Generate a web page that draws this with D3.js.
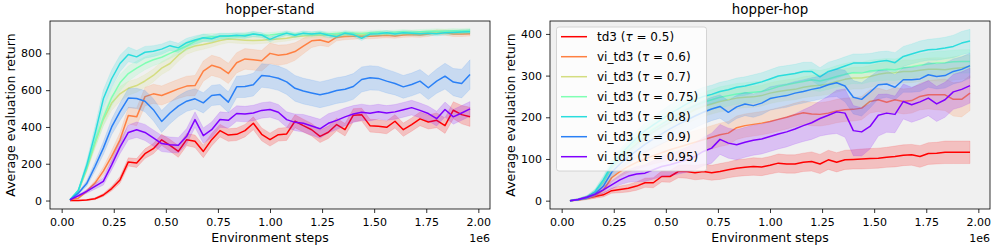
<!DOCTYPE html>
<html><head><meta charset="utf-8">
<script src="https://cdn.jsdelivr.net/npm/d3@7"></script>
<style>
body{margin:0;background:#fff}
svg{display:block}
text{font-family:"DejaVu Sans",sans-serif;fill:#000}
</style></head>
<body><svg id="c" width="996" height="249"></svg>
<script>
// environment steps (x 1e6)
const steps = [0.04,0.08,0.12,0.16,0.2,0.24,0.28,0.32,0.36,0.4,0.44,0.48,0.52,0.56,0.6,0.64,0.68,0.72,0.76,0.8,0.84,0.88,0.92,0.96,1.0,1.04,1.08,1.12,1.16,1.2,1.24,1.28,1.32,1.36,1.4,1.44,1.48,1.52,1.56,1.6,1.64,1.68,1.72,1.76,1.8,1.84,1.88,1.92,1.96];
const xTicks = [0,0.25,0.5,0.75,1.0,1.25,1.5,1.75,2.0];
const standYTicks = [0,200,400,600,800];
const hopYTicks = [0,100,200,300,400];
const panelTitles = ["hopper-stand","hopper-hop"];
const methodNames = ["td3","vi_td3","vi_td3","vi_td3","vi_td3","vi_td3","vi_td3"];
const tauValues = ["0.5","0.6","0.7","0.75","0.8","0.9","0.95"];
const colors = ["#ff0000","#ff8042","#d4dd80","#80ffb4","#2adddd","#2a80f6","#8000ff"];

// hopper-stand means
const standTd3   = [0,0,3,10,30,65,112,210,204,255,282,330,300,267,331,322,267,331,380,356,360,380,420,360,331,358,362,431,407,385,349,371,413,385,464,467,407,404,398,431,385,413,444,427,436,407,491,467,455];
const standVi06  = [4,13,50,95,160,240,330,462,455,565,580,571,589,607,622,625,704,735,722,691,749,770,765,760,800,790,795,810,840,868,873,860,888,892,893,895,893,896,898,895,900,902,900,905,915,912,905,905,907];
const standVi07  = [4,50,170,310,440,530,580,610,625,650,680,720,745,790,825,840,848,858,870,878,875,872,870,872,875,878,882,890,895,898,900,898,900,902,905,903,905,908,910,908,910,912,910,913,915,918,916,918,920];
const standVi075 = [4,55,180,320,450,560,640,690,720,746,765,779,800,820,840,865,885,890,892,893,895,900,905,898,900,905,910,902,908,905,910,905,908,912,910,908,912,915,912,915,918,915,918,920,922,920,923,922,925];
const standVi08  = [4,55,190,363,553,662,745,794,781,806,812,823,842,830,858,873,885,880,894,894,898,895,905,900,876,895,910,898,910,905,910,898,891,910,902,882,905,907,912,905,912,910,907,910,907,912,914,916,918];
const standVi09  = [4,40,92,185,285,400,483,557,555,540,494,430,476,513,540,553,531,571,576,535,618,620,630,680,675,665,645,610,595,585,575,585,598,605,620,658,667,664,649,636,618,631,649,613,649,676,644,636,685];
const standVi095 = [4,26,50,77,104,194,290,370,385,370,340,310,303,300,349,440,353,385,440,436,473,470,476,490,495,480,440,425,420,405,390,420,436,455,470,480,475,483,476,482,493,505,490,473,445,495,455,476,498];
// hopper-stand spreads
const standTd3Sd   = [2,2,3,5,8,12,18,22,24,26,28,30,32,32,33,34,34,34,34,34,34,34,35,35,35,35,35,35,35,34,34,34,34,34,35,35,35,35,35,36,36,36,37,38,40,42,46,50,52];
const standVi06Sd  = [2,4,8,14,22,32,40,45,48,50,52,52,52,52,54,55,55,55,55,55,55,56,56,56,56,55,52,48,42,36,30,24,20,18,16,15,14,14,13,13,13,13,13,13,13,13,13,13,13];
const standVi07Sd  = [2,6,15,25,35,40,40,38,36,35,35,35,34,33,30,28,26,24,22,20,20,20,20,18,18,16,15,15,14,14,13,13,13,13,12,12,12,12,12,12,12,12,12,12,12,12,12,12,12];
const standVi075Sd = [2,8,20,35,45,48,45,42,38,35,32,30,28,26,24,22,20,18,16,15,14,14,14,13,13,13,12,12,12,12,12,12,12,12,12,12,12,12,12,12,12,12,12,12,12,12,12,12,12];
const standVi08Sd  = [2,8,25,40,48,48,45,40,35,32,30,28,26,25,24,22,20,18,16,15,14,14,14,13,13,13,12,12,12,12,12,12,12,12,12,12,12,12,12,12,12,12,12,12,12,12,12,12,12];
const standVi09Sd  = [2,6,15,25,35,42,48,52,55,58,60,60,58,56,55,55,55,55,55,56,58,60,62,64,65,66,68,70,70,70,70,70,70,70,70,68,66,65,64,62,62,62,63,64,66,70,74,78,80];
const standVi095Sd = [2,5,10,15,20,28,35,40,42,44,44,44,42,42,42,42,42,42,42,42,42,42,42,42,42,42,42,45,48,50,52,52,50,48,46,44,42,40,40,40,40,40,40,40,40,40,40,40,40];

// hopper-hop means
const hopTd3   = [0,2,6,10,14,24,27,30,35,43,43,58,58,70,70,67,70,67,70,74,78,80,82,81,85,90,88,88,92,94,88,98,92,98,99,100,101,102,104,106,109,110,106,113,114,116,116,116,116];
const hopVi06  = [0,2,6,12,25,55,70,82,92,100,108,115,122,128,134,140,146,152,158,162,175,180,183,186,190,195,200,206,211,208,207,210,215,218,219,222,238,242,236,242,238,240,250,254,254,254,243,243,258];
const hopVi07  = [0,3,8,20,44,80,102,120,137,152,165,177,188,198,208,218,226,232,238,242,246,248,249,252,258,262,265,267,272,275,277,280,286,291,294,294,298,303,306,307,310,310,313,315,315,314,317,319,322];
const hopVi075 = [0,3,8,20,46,82,105,125,143,158,172,184,196,207,218,228,236,242,248,252,256,258,260,262,267,274,278,282,286,290,287,292,298,303,307,306,311,313,315,314,318,321,325,328,330,331,333,334,334];
const hopVi08  = [0,3,8,22,50,85,110,130,150,168,182,195,208,220,232,242,250,255,262,266,272,275,280,285,292,299,302,305,310,310,297,310,316,323,330,330,330,334,336,331,346,352,358,362,363,366,370,378,383];
const hopVi09  = [0,3,7,16,35,68,88,105,120,135,148,160,172,183,193,203,212,220,226,212,225,232,228,234,245,249,252,258,262,267,271,278,283,275,248,243,260,278,280,272,290,290,292,302,298,300,310,315,324];
const hopVi095 = [0,3,8,15,26,38,50,59,64,66,74,82,86,92,98,106,118,126,147,138,134,140,145,148,154,160,165,172,180,187,197,205,213,210,168,165,178,205,210,207,238,230,237,246,232,242,261,267,276];
// hopper-hop spreads
const hopTd3Sd   = [1,2,3,4,5,6,8,9,10,11,12,13,14,15,16,17,18,18,19,19,20,20,21,21,21,22,22,22,22,23,23,23,23,23,23,24,24,24,24,25,25,25,26,26,26,27,27,27,27];
const hopVi06Sd  = [1,2,4,6,8,10,12,14,16,18,20,22,24,26,28,28,28,28,28,28,28,28,28,28,28,28,28,28,28,28,28,28,28,28,28,28,28,28,28,30,30,30,32,34,36,38,40,42,42];
const hopVi07Sd  = [1,2,4,6,9,12,14,16,18,19,20,21,22,23,24,24,24,24,25,25,25,25,25,25,25,25,25,25,25,25,25,25,26,26,26,26,26,26,26,26,27,27,27,27,28,28,28,28,28];
const hopVi075Sd = [1,2,4,6,9,12,14,16,18,19,20,21,22,23,24,24,24,24,25,25,25,25,25,25,25,25,25,25,25,25,25,25,26,26,26,26,26,26,26,26,27,27,27,27,28,28,28,28,28];
const hopVi08Sd  = [1,2,4,6,9,12,14,16,18,19,20,21,22,22,22,22,22,22,22,22,22,22,22,22,22,22,22,22,22,22,22,22,22,22,22,22,23,23,23,24,24,24,25,25,26,26,27,28,28];
const hopVi09Sd  = [1,2,4,6,9,12,14,16,18,20,22,24,26,28,28,28,28,28,28,28,28,28,28,28,28,28,28,28,28,28,28,30,33,38,40,40,38,34,32,30,30,30,30,30,30,30,30,30,30];
const hopVi095Sd = [1,2,3,5,8,10,12,15,18,20,22,24,26,28,30,32,34,36,36,36,36,36,36,36,36,36,36,36,38,40,42,46,52,58,60,58,54,50,46,44,42,42,42,42,42,42,42,42,42];

const panels = [
  {title: panelTitles[0], left: 50, yDomain: [-46, 976], yTicks: standYTicks,
   means: [standTd3, standVi06, standVi07, standVi075, standVi08, standVi09, standVi095],
   sds: [standTd3Sd, standVi06Sd, standVi07Sd, standVi075Sd, standVi08Sd, standVi09Sd, standVi095Sd], legend: false},
  {title: panelTitles[1], left: 550, yDomain: [-20, 431], yTicks: hopYTicks,
   means: [hopTd3, hopVi06, hopVi07, hopVi075, hopVi08, hopVi09, hopVi095],
   sds: [hopTd3Sd, hopVi06Sd, hopVi07Sd, hopVi075Sd, hopVi08Sd, hopVi09Sd, hopVi095Sd], legend: true}
];

const svg = d3.select("#c");
const W = 440, yTop = 21, yBot = 209;

panels.forEach((p, pi) => {
  const g = svg.append("g");
  const x = d3.scaleLinear().domain([-0.056, 2.056]).range([p.left, p.left + W]);
  const y = d3.scaleLinear().domain(p.yDomain).range([yBot, yTop]);
  g.append("rect").attr("x", p.left).attr("y", yTop).attr("width", W).attr("height", yBot - yTop).attr("fill", "#f0f0f0");
  const cid = "clip" + pi;
  svg.append("clipPath").attr("id", cid).append("rect").attr("x", p.left).attr("y", yTop).attr("width", W).attr("height", yBot - yTop);
  const plot = g.append("g").attr("clip-path", `url(#${cid})`);
  p.means.forEach((m, si) => {
    const rows = steps.map((s, i) => ({s, v: m[i], d: p.sds[si][i]}));
    plot.append("path").datum(rows)
      .attr("fill", colors[si]).attr("fill-opacity", 0.2)
      .attr("stroke", colors[si]).attr("stroke-opacity", 0.12).attr("stroke-width", 1)
      .attr("d", d3.area().x(d => x(d.s)).y0(d => y(d.v - d.d)).y1(d => y(d.v + d.d)));
    plot.append("path").datum(rows)
      .attr("fill", "none").attr("stroke", colors[si]).attr("stroke-width", 1.5).attr("stroke-linejoin", "round")
      .attr("d", d3.line().x(d => x(d.s)).y(d => y(d.v)));
  });
  const xa = g.append("g").attr("transform", `translate(0,${yBot})`)
    .call(d3.axisBottom(x).tickValues(xTicks).tickFormat(d3.format(".2f")).tickSize(4).tickPadding(5.5));
  const ya = g.append("g").attr("transform", `translate(${p.left},0)`)
    .call(d3.axisLeft(y).tickValues(p.yTicks).tickSize(4).tickPadding(4));
  [xa, ya].forEach(a => {
    a.select(".domain").remove();
    a.selectAll(".tick line").attr("stroke", "#000").attr("stroke-width", 0.8);
    a.selectAll(".tick text").attr("font-size", "11px").attr("font-family", "DejaVu Sans").attr("fill", "#000");
  });
  g.append("rect").attr("x", p.left).attr("y", yTop).attr("width", W).attr("height", yBot - yTop)
    .attr("fill", "none").attr("stroke", "#000").attr("stroke-width", 0.8);
  g.append("text").attr("x", p.left + W / 2).attr("y", 14).attr("text-anchor", "middle").attr("font-size", "13.4px").text(p.title);
  g.append("text").attr("x", p.left + W / 2).attr("y", 242).attr("text-anchor", "middle").attr("font-size", "12.5px").text("Environment steps");
  g.append("text").attr("transform", `translate(${p.left - 34.7},${(yTop + yBot) / 2}) rotate(-90)`).attr("text-anchor", "middle").attr("font-size", "12.5px").text("Average evaluation return");
  g.append("text").attr("x", p.left + W).attr("y", 241.5).attr("text-anchor", "end").attr("font-size", "11px").text("1e6");

  if (p.legend) {
    const lg = g.append("g");
    lg.append("rect").attr("x", 556.5).attr("y", 27).attr("width", 150).attr("height", 144).attr("rx", 2.5)
      .attr("fill", "#fff").attr("fill-opacity", 0.8).attr("stroke", "#cccccc").attr("stroke-width", 0.8);
    methodNames.forEach((n, si) => {
      const ry = 36.7 + si * 20;
      lg.append("line").attr("x1", 561).attr("x2", 587).attr("y1", ry).attr("y2", ry).attr("stroke", colors[si]).attr("stroke-width", 1.5);
      const t = lg.append("text").attr("x", 597).attr("y", ry).attr("dy", "0.36em").attr("font-size", "12px");
      t.append("tspan").text(n + " (");
      t.append("tspan").attr("font-style", "italic").text("τ");
      t.append("tspan").text(" = " + tauValues[si] + ")");
    });
  }
});
</script></body></html>
